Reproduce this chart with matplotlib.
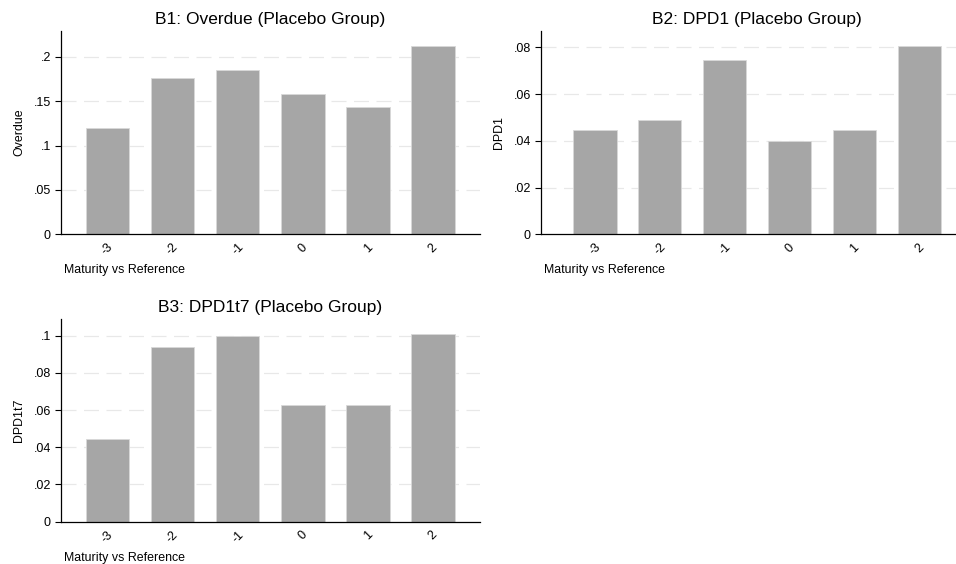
import matplotlib
matplotlib.use("Agg")
import matplotlib.pyplot as plt
from matplotlib.ticker import FuncFormatter

plt.rcParams['font.family'] = ['Liberation Sans', 'DejaVu Sans']

categories = ["-3", "-2", "-1", "0", "1", "2"]
overdue = [0.1197, 0.1757, 0.1850, 0.1580, 0.1430, 0.2120]
dpd1 = [0.0446, 0.0488, 0.0744, 0.0400, 0.0445, 0.0806]
dpd1t7 = [0.0446, 0.0939, 0.0997, 0.0627, 0.0625, 0.1011]

titles = ["B1: Overdue (Placebo Group)", "B2: DPD1 (Placebo Group)", "B3: DPD1t7 (Placebo Group)"]
ylabels = ["Overdue", "DPD1", "DPD1t7"]
yticks = [[0, 0.05, 0.10, 0.15, 0.20], [0, 0.02, 0.04, 0.06, 0.08], [0, 0.02, 0.04, 0.06, 0.08, 0.10]]
ytops = [0.2293, 0.0871, 0.1088]
series = [overdue, dpd1, dpd1t7]

W, H = 956, 564
fig = plt.figure(figsize=(W / 100, H / 100), dpi=100)

def rect(l, r, t, b):
    return [l / W, 1 - b / H, (r - l) / W, (b - t) / H]

rects = [rect(60.7, 480, 30.7, 234.3), rect(540.7, 956, 30.7, 234.3), rect(60.7, 480, 319.3, 521.7)]
xlims = [(-0.72, 5.72), (-0.835, 5.56), (-0.72, 5.72)]
title_x = [0.5, 0.52, 0.5]

def fmt(v, pos):
    if abs(v) < 1e-12:
        return "0"
    s = ("%.2f" % v).rstrip("0")
    if s.startswith("0"):
        s = s[1:]
    return s

for i in range(3):
    ax = fig.add_axes(rects[i])
    x = list(range(len(categories)))
    ax.bar(x, series[i], width=0.665, color="#a6a6a6", edgecolor="#d9d9d9", linewidth=0.6, zorder=2)
    ax.set_xlim(*xlims[i])
    ax.set_ylim(0, ytops[i])
    ax.set_yticks(yticks[i])
    ax.yaxis.set_major_formatter(FuncFormatter(fmt))
    for yv in yticks[i][1:]:
        ax.axhline(yv, color="#e8e8e8", linewidth=0.9, dashes=(12, 6), zorder=1)
    ax.set_xticks(x)
    ax.set_xticklabels(categories, rotation=45, ha="center", va="top", fontsize=9)
    ax.tick_params(axis="x", length=0, pad=5)
    ax.tick_params(axis="y", length=4, width=0.8, pad=3, labelsize=9, direction="out")
    for s in ["top", "right"]:
        ax.spines[s].set_visible(False)
    for s in ["left", "bottom"]:
        ax.spines[s].set_linewidth(0.9)
    ax.set_title(titles[i], fontsize=12.5, x=title_x[i], pad=5)
    ax.set_ylabel(ylabels[i], fontsize=8.9, labelpad=6)
    xl = ax.set_xlabel("Maturity vs Reference", fontsize=8.9, loc="left", labelpad=5)
    xl.set_x(0.008)

fig.savefig("out.png", dpi=100)
